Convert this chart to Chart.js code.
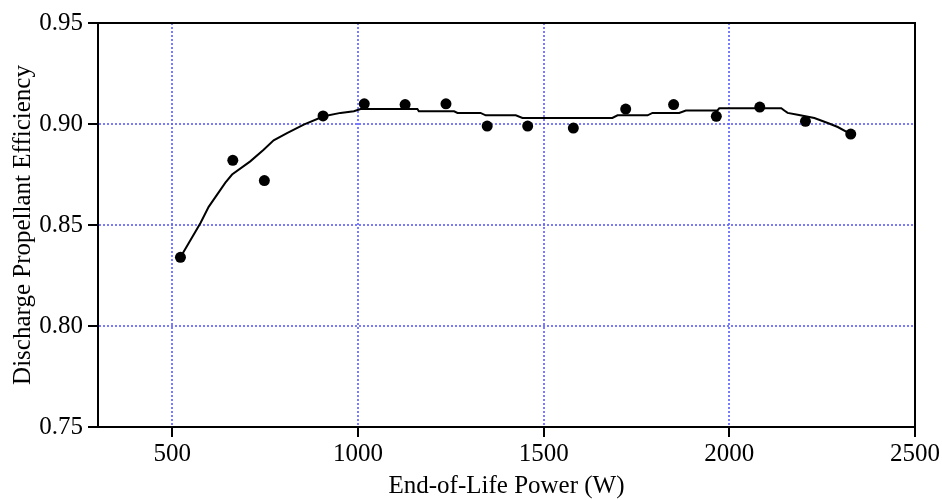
<!DOCTYPE html>
<html>
<head>
<meta charset="utf-8">
<script src="https://cdn.jsdelivr.net/npm/chart.js@4"></script>
<style>
    html, body { margin: 0; padding: 0; background: #fff; }
    canvas { display: block; }
</style>
</head>
<body>
<canvas id="chart" width="942" height="500"></canvas>
<script>
// measured points
const pointX = [522, 663, 748, 906, 1017, 1127, 1237, 1348, 1457, 1580, 1721, 1850, 1965, 2082, 2205, 2327];
const pointY = [0.834, 0.882, 0.872, 0.904, 0.910, 0.9096, 0.910, 0.899, 0.899, 0.898, 0.9074, 0.9096, 0.9038, 0.9084, 0.9013, 0.895];

// fitted curve (stepped in the flat part)
const fitX = [522, 576, 598, 643, 661, 710, 746, 773, 809, 854, 908, 953, 989, 1007, 1052, 1160, 1164, 1259, 1268, 1330, 1344, 1425, 1443, 1685, 1699, 1780, 1793, 1865, 1883, 1968, 1973, 2140, 2148, 2157, 2184, 2229, 2265, 2292, 2327];
const fitY = [0.834, 0.851, 0.859, 0.871, 0.875, 0.8815, 0.8873, 0.8919, 0.8955, 0.8997, 0.9038, 0.9055, 0.9063, 0.9074, 0.9074, 0.9074, 0.9063, 0.9063, 0.9055, 0.9055, 0.9043, 0.9043, 0.903, 0.903, 0.9043, 0.9043, 0.9055, 0.9055, 0.9067, 0.9067, 0.9078, 0.9078, 0.9067, 0.9055, 0.9046, 0.903, 0.9005, 0.8985, 0.895];

// axes
const xTicks = [500, 1000, 1500, 2000, 2500];
const yTicks = [0.75, 0.80, 0.85, 0.90, 0.95];
const xRange = [300, 2500];
const yRange = [0.75, 0.95];

const FONT = { family: '"Liberation Serif", "Times New Roman", serif', size: 25 };
const GRID_BLUE = 'rgba(100, 100, 255, 0.85)';

const toXY = (xs, ys) => xs.map((x, i) => ({ x: x, y: ys[i] }));

// no dotted line on the frame edges
const gridColor = (edges) => (ctx) =>
    (ctx.tick && edges.includes(ctx.tick.value)) ? 'rgba(0,0,0,0)' : GRID_BLUE;

// top/right frame lines come from empty secondary axes
const frameAxis = (axis, position, range) => ({
    type: 'linear',
    axis: axis,
    position: position,
    min: range[0],
    max: range[1],
    ticks: { display: false },
    grid: { display: false, drawTicks: false },
    border: { display: true, color: '#000', width: 2 },
    afterFit(scale) {
        if (axis === 'x') scale.height = 0; else scale.width = 0;
    }
});

new Chart(document.getElementById('chart'), {
    type: 'scatter',
    data: {
        datasets: [
            {
                label: 'fit',
                data: toXY(fitX, fitY),
                showLine: true,
                borderColor: '#000',
                borderWidth: 2,
                pointRadius: 0,
                tension: 0,
                fill: false
            },
            {
                label: 'data',
                data: toXY(pointX, pointY),
                showLine: false,
                pointRadius: 5.5,
                pointBackgroundColor: '#000',
                pointBorderWidth: 0
            }
        ]
    },
    options: {
        responsive: false,
        animation: false,
        events: [],
        layout: { padding: { left: 0, right: 27, top: 23, bottom: 0 } },
        plugins: {
            legend: { display: false },
            tooltip: { enabled: false }
        },
        scales: {
            x: {
                type: 'linear',
                position: 'bottom',
                min: xRange[0],
                max: xRange[1],
                afterBuildTicks(scale) {
                    scale.ticks = xTicks.map(v => ({ value: v }));
                },
                afterFit(scale) { scale.height = 73; },
                ticks: {
                    color: '#000',
                    font: FONT,
                    padding: 2,
                    maxRotation: 0,
                    callback: v => String(v)
                },
                grid: {
                    color: gridColor([xRange[0], xRange[1]]),
                    lineWidth: 2,
                    tickColor: '#000',
                    tickWidth: 2,
                    tickLength: 10
                },
                border: { display: true, color: '#000', width: 2, dash: [2, 2] },
                title: {
                    display: true,
                    text: 'End-of-Life Power (W)',
                    color: '#000',
                    font: FONT,
                    padding: { top: 0, bottom: -1 }
                }
            },
            y: {
                type: 'linear',
                position: 'left',
                min: yRange[0],
                max: yRange[1],
                afterBuildTicks(scale) {
                    scale.ticks = yTicks.map(v => ({ value: v }));
                },
                afterFit(scale) { scale.width = 98; },
                ticks: {
                    color: '#000',
                    font: FONT,
                    padding: 5,
                    callback: v => v.toFixed(2)
                },
                grid: {
                    color: gridColor([yRange[0], yRange[1]]),
                    lineWidth: 2,
                    tickColor: '#000',
                    tickWidth: 2,
                    tickLength: 10
                },
                border: { display: true, color: '#000', width: 2, dash: [2, 2] },
                title: {
                    display: true,
                    text: 'Discharge Propellant Efficiency',
                    color: '#000',
                    font: FONT,
                    padding: { top: 8, bottom: 0 }
                }
            },
            x2: frameAxis('x', 'top', xRange),
            y2: frameAxis('y', 'right', yRange)
        }
    }
});
</script>
</body>
</html>
